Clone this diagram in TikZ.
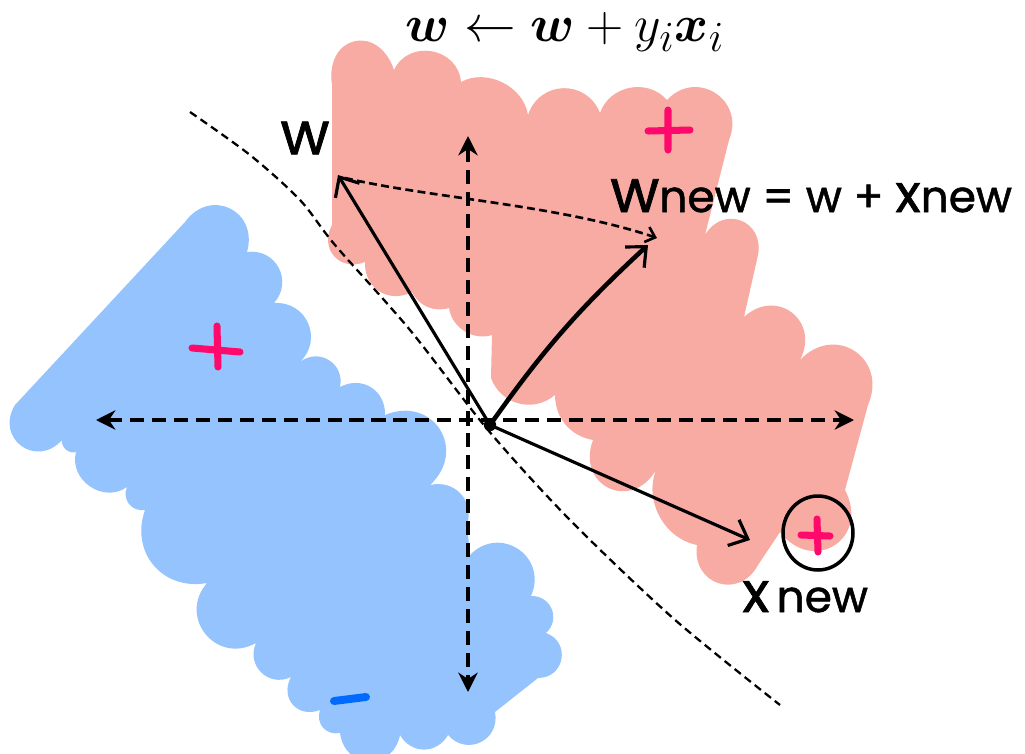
\documentclass[tikz,border=0pt]{standalone}
\usepackage{fontspec}
\usepackage{amsmath}
\usepackage{amssymb}
\usepackage{tikz}
\usetikzlibrary{arrows.meta,calc}
\newfontfamily\handfont[FakeBold=1.2]{Poppins}
\definecolor{PosPink}{HTML}{F7ABA3}
\definecolor{NegBlue}{HTML}{94C3FD}
\definecolor{PlusRed}{HTML}{FF0A6C}
\definecolor{MinusBlue}{HTML}{006AFF}
\tikzset{
  axis/.style={{Stealth[length=11pt,width=11pt]}-{Stealth[length=11pt,width=11pt]},
    line width=2.2pt,dash pattern=on 8pt off 4.5pt},
  boundary/.style={line width=1.3pt,dash pattern=on 4.5pt off 2.8pt},
  vec/.style={-{Straight Barb[length=9pt,width=16pt,line width=1.8pt]},line width=1.8pt,
    line cap=round},
  newvec/.style={vec,line width=2.6pt},
  hint/.style={-{Straight Barb[length=5pt,width=9pt]},line width=1.5pt,
    dash pattern=on 4.5pt off 2.5pt},
  ring/.style={line width=2pt},
  lobe/.style={bend left=#1,looseness=1.6},
  lobe/.default=80,
  plusmark/.style={draw=PlusRed,line width=4pt,line cap=round},
  minusmark/.style={draw=MinusBlue,line width=4.5pt,line cap=round},
  handlabel/.style={font=\handfont\fontsize{25}{29}\selectfont,inner sep=0pt}
}
\begin{document}
\begin{tikzpicture}[x=0.02cm,y=-0.02cm]
  \useasboundingbox (0,0) rectangle (1025,754);
  % positive region
  \fill[PosPink] (332,225) -- (332,85)
    to[bend left=85,looseness=2] (394,70)
    to[bend left=75,looseness=1.3] (461,82)
    to[bend left=55] (528,115)
    to[bend left=70,looseness=1.3] (600,113)
    to[bend left=60,looseness=1.1] (667,100)
    to[bend left=80,looseness=1.5] (729,140)
    -- (705,235)
    to[lobe] (758,255)
    -- (744,317)
    to[lobe] (800,360)
    to[lobe=80] (868,405)
    -- (845,490)
    to[bend left=85,looseness=1.8] (780,532)
    -- (758,565)
    to[lobe] (697,545)
    to[bend left=50] (656,470)
    to[bend left=85,looseness=1.8] (593,440)
    to[bend left=40] (555,395)
    to[bend left=55,looseness=1.1] (491,378)
    -- (492,335)
    to[bend left=50] (449,308)
    to[bend left=40] (412,292)
    to[bend left=60,looseness=1.2] (365,262)
    to[bend left=70,looseness=1.4] (332,225) -- cycle;
  % negative region
  \fill[NegBlue] (15,405) -- (185,222)
    to[lobe] (247,252)
    to[bend left=70,looseness=1.3] (274,303)
    to[bend left=70,looseness=1.3] (300,362)
    to[bend left=70,looseness=1.3] (340,387)
    to[bend left=60,looseness=1.2] (385,415)
    to[lobe] (430,485)
    to[bend left=60,looseness=1.2] (467,525)
    -- (470,555)
    to[bend left=80,looseness=1.5] (531,596)
    to[bend left=70,looseness=1.3] (546,633)
    to[bend left=80,looseness=1.5] (538,678)
    -- (495,712)
    to[bend left=75,looseness=1.4] (448,735)
    to[bend left=60,looseness=1.2] (400,735)
    to[lobe] (340,733)
    to[bend left=60,looseness=1.2] (320,710)
    to[bend left=70,looseness=1.4] (291,677)
    to[bend left=70,looseness=1.3] (256,643)
    to[bend left=80,looseness=1.5] (207,583)
    to[bend left=60,looseness=1.2] (145,510)
    to[bend left=60,looseness=1.2] (127,487)
    to[bend left=70,looseness=1.2] (76,452)
    to[bend left=60] (62,440)
    to[bend left=85,looseness=1.7] (15,405) -- cycle;

  % labels of points
  \draw[plusmark] (648,131) -- (690,130) (668,110) -- (668,150);
  \draw[plusmark] (192,348) -- (240,352) (217,326) -- (218,367);
  \draw[plusmark] (801,535) -- (830,536) (817,519) -- (818,552);
  \draw[minusmark] (334,701) -- (366,697);

  % axes and boundary
  \coordinate (o) at (490,425);
  \coordinate (xl) at (96,420);
  \coordinate (xr) at (854,420);
  \coordinate (yt) at (468,136);
  \coordinate (yb) at (468,692);
  \draw[axis] (xl) -- (xr);
  \draw[axis] (yt) -- (yb);
  \draw[boundary] plot[smooth] coordinates {(190,112) (250,155) (300,200) (335,245)
    (410,330) (488,430) (570,520) (674,619) (780,705)};

  % vectors
  \coordinate (wtip) at (338,175);
  \coordinate (wnewtip) at (648,245);
  \coordinate (xnewtip) at (750,540);
  \draw[vec] (o) -- (wtip);
  \draw[newvec] (o) to[bend left=6] (wnewtip);
  \draw[vec] (o) -- (xnewtip);
  \draw[hint] ($(wtip)+(7,3)$) .. controls (430,198) and (560,205) .. (657,238);
  \fill (o) circle[radius=3.5pt];
  \draw[ring] (818,533) ellipse[x radius=0.7cm,y radius=0.74cm];

  % texts
  \node[font=\Huge,scale=1.18,inner sep=0pt] (title) at (565,32)
    {$\boldsymbol{w} \leftarrow \boldsymbol{w} + y_i\boldsymbol{x}_i$};
  \node[handlabel,font=\handfont\fontsize{34}{38}\selectfont] (wlab) at (305,138) {w};
  \node[handlabel,anchor=base west] (wnewlab) at (610,212)
    {{\fontsize{34}{38}\selectfont w}new = w + {\fontsize{30}{34}\selectfont x}new};
  \node[handlabel,anchor=base west] (xnewlab) at (742,612)
    {{\fontsize{32}{36}\selectfont x}\,new};
\end{tikzpicture}
\end{document}
